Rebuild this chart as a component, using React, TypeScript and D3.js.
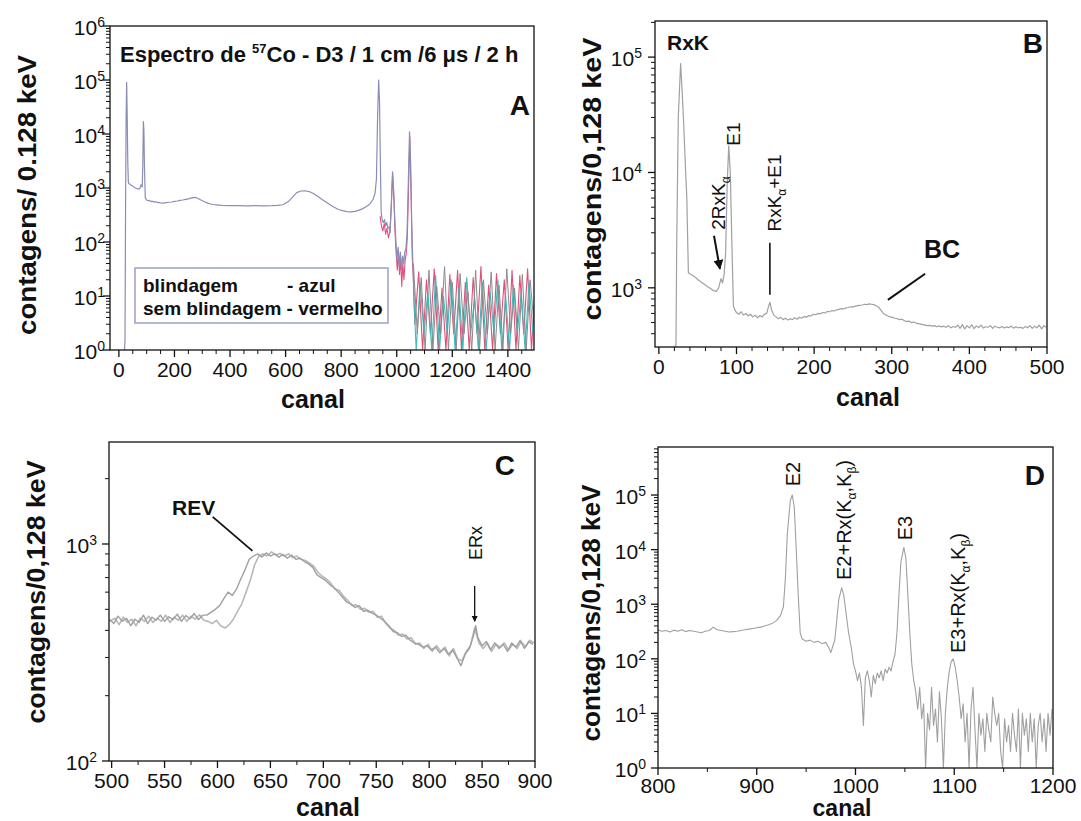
import React from "react";
import * as d3 from "d3";

type Pt = [number, number];
const FONT = "'Liberation Sans', Arial, Helvetica, sans-serif";

// ---------------- Panel A : full spectrum ----------------
const A_xTicks = [0, 200, 400, 600, 800, 1000, 1200, 1400];
const A_yDecades = [0, 1, 2, 3, 4, 5, 6];
const A_blindagem: Pt[] = [
  [20, 1], [22, 1.5], [24, 400], [26, 2e4], [28, 9e4], [30, 2e4], [32, 3000], [34, 1300], [36, 1200], [40, 1180],
  [44, 1120], [48, 1100], [52, 1060], [56, 1020], [60, 1000], [64, 980], [68, 960], [72, 950], [76, 1000], [80, 1150],
  [84, 1050], [86, 2500], [88, 1.7e4], [90, 1.2e4], [92, 2500], [95, 650], [100, 600], [105, 580], [110, 590], [115, 560],
  [120, 570], [125, 550], [130, 560], [140, 540], [150, 530], [160, 525], [170, 535], [180, 545], [190, 550], [200, 565],
  [210, 575], [220, 590], [230, 600], [240, 615], [250, 630], [260, 650], [270, 670], [280, 660], [290, 620], [300, 580],
  [310, 550], [320, 525], [330, 505], [340, 495], [350, 485], [370, 478], [400, 472], [430, 470], [460, 468], [490, 470],
  [520, 468], [550, 470], [570, 475], [590, 490], [610, 560], [625, 680], [640, 820], [655, 880], [670, 890], [685, 860],
  [700, 790], [715, 700], [730, 620], [745, 550], [760, 490], [775, 440], [790, 400], [805, 380], [820, 365], [835, 360],
  [850, 370], [865, 390], [880, 420], [895, 470], [905, 520], [915, 620], [922, 800], [927, 1500], [931, 2e4], [935, 1e5],
  [938, 4e4], [941, 3000], [944, 350], [948, 250], [952, 230], [956, 260], [960, 200], [964, 230], [968, 180], [972, 190],
  [976, 150], [980, 450], [985, 2000], [989, 900], [993, 250], [997, 100], [1001, 50], [1005, 80], [1009, 35], [1013, 65],
  [1017, 30], [1021, 55], [1025, 40], [1029, 65], [1033, 75], [1037, 140], [1041, 900], [1046, 1.1e4], [1050, 3000],
  [1054, 200], [1058, 40], [1062, 10],
];
const A_semBlindagem: Pt[] = [
  [940, 300], [945, 200], [950, 160], [955, 220], [960, 140], [965, 180], [970, 120], [975, 150], [980, 400], [985, 1800],
  [990, 600], [994, 150], [998, 60], [1002, 30], [1006, 70], [1010, 25], [1014, 50], [1018, 15], [1022, 40], [1026, 20],
  [1030, 45], [1034, 60], [1038, 120], [1042, 800], [1047, 9000], [1052, 600], [1056, 50], [1060, 20], [1065, 3],
  [1079, 28], [1093, 1], [1107, 20], [1121, 2], [1135, 32], [1149, 1], [1163, 14], [1177, 1], [1191, 25], [1205, 2],
  [1219, 30], [1233, 1], [1247, 18], [1261, 1], [1275, 22], [1289, 2], [1303, 35], [1317, 1], [1331, 16], [1345, 1],
  [1359, 26], [1373, 2], [1387, 20], [1401, 1], [1415, 30], [1429, 1], [1443, 24], [1457, 2], [1471, 32], [1485, 1],
  [1499, 18],
];
const A_cinzaCauda: Pt[] = [
  [1060, 40], [1074, 2], [1088, 22], [1102, 1], [1116, 30], [1130, 1], [1144, 15], [1158, 2], [1172, 35], [1186, 1],
  [1200, 18], [1214, 1], [1228, 26], [1242, 2], [1256, 12], [1270, 1], [1284, 30], [1298, 1], [1312, 20], [1326, 2],
  [1340, 28], [1354, 1], [1368, 16], [1382, 1], [1396, 32], [1410, 2], [1424, 14], [1438, 1], [1452, 25], [1466, 1],
  [1480, 20], [1494, 3],
];
const A_cianoCauda: Pt[] = [
  [1060, 15], [1070, 1], [1084, 18], [1098, 2], [1112, 12], [1126, 1], [1140, 24], [1154, 1], [1168, 10], [1182, 2],
  [1196, 20], [1210, 1], [1224, 14], [1238, 1], [1252, 22], [1266, 2], [1280, 9], [1294, 1], [1308, 18], [1322, 1],
  [1336, 12], [1350, 2], [1364, 20], [1378, 1], [1392, 10], [1406, 1], [1420, 16], [1434, 2], [1448, 12], [1462, 1],
  [1476, 18], [1490, 2],
];

// ---------------- Panel B : channels 0-500 ----------------
const B_xTicks = [0, 100, 200, 300, 400, 500];
const B_yDecades = [3, 4, 5];
const B_espectro: Pt[] = [
  [20, 300], [22, 320], [23, 2500], [25, 3e4], [28, 8.8e4], [30, 5e4], [32, 2.6e4], [34, 1.2e4], [36, 6000], [38, 1350],
  [42, 1300], [46, 1250], [50, 1180], [54, 1130], [58, 1080], [62, 1030], [66, 990], [70, 950], [74, 930], [77, 1000],
  [80, 1200], [82, 1100], [84, 1300], [86, 2000], [88, 8000], [90, 1.7e4], [92, 1e4], [94, 2500], [96, 700], [98, 640],
  [100, 610], [103, 590], [106, 620], [109, 580], [112, 600], [115, 570], [118, 590], [121, 560], [124, 580], [127, 550],
  [130, 575], [133, 560], [136, 590], [139, 600], [141, 680], [143, 750], [145, 650], [148, 580], [151, 560], [154, 540],
  [157, 555], [160, 530], [163, 545], [166, 525], [169, 540], [172, 530], [175, 550], [178, 535], [181, 555], [184, 545],
  [187, 565], [190, 555], [193, 575], [196, 570], [199, 590], [202, 585], [205, 600], [208, 595], [211, 610], [214, 605],
  [217, 625], [220, 620], [223, 635], [226, 630], [229, 645], [232, 650], [235, 660], [238, 655], [241, 670], [244, 675],
  [247, 685], [250, 680], [253, 695], [256, 700], [259, 705], [262, 710], [265, 720], [268, 715], [271, 725], [274, 720],
  [277, 715], [280, 700], [283, 680], [286, 640], [289, 600], [292, 585], [295, 570], [298, 560], [301, 555], [304, 545],
  [307, 540], [310, 530], [313, 535], [316, 520], [319, 510], [322, 515], [325, 500], [328, 505], [331, 495], [334, 490],
  [337, 485], [340, 480], [343, 475], [346, 470], [349, 472], [352, 465], [355, 470], [358, 460], [361, 468], [364, 458],
  [367, 465], [370, 455], [373, 470], [376, 450], [379, 462], [382, 455], [385, 475], [388, 445], [391, 480], [394, 440],
  [397, 470], [400, 450], [403, 478], [406, 442], [409, 468], [412, 452], [415, 475], [418, 448], [421, 460], [424, 455],
  [427, 470], [430, 445], [433, 465], [436, 455], [439, 450], [442, 462], [445, 448], [448, 458], [451, 452], [454, 465],
  [457, 447], [460, 460], [463, 450], [466, 455], [469, 445], [472, 462], [475, 450], [478, 470], [481, 445], [484, 465],
  [487, 450], [490, 475], [493, 440], [496, 470], [499, 455],
];

// ---------------- Panel C : channels 500-900 ----------------
const C_xTicks = [500, 550, 600, 650, 700, 750, 800, 850, 900];
const C_yDecades = [2, 3];
const C_espectro1: Pt[] = [
  [498, 450], [502, 430], [506, 465], [510, 440], [514, 455], [518, 420], [522, 450], [526, 435], [530, 470], [534, 430],
  [538, 460], [542, 445], [546, 470], [550, 440], [554, 462], [558, 448], [562, 475], [566, 440], [570, 468], [574, 452],
  [578, 478], [582, 448], [586, 470], [590, 470], [594, 485], [598, 500], [602, 520], [606, 560], [610, 600], [614, 580],
  [618, 620], [622, 690], [626, 760], [630, 850], [634, 880], [638, 900], [642, 870], [646, 910], [650, 880], [654, 900],
  [658, 870], [662, 895], [666, 860], [670, 890], [674, 850], [678, 860], [682, 830], [686, 810], [690, 780], [694, 720],
  [698, 700], [702, 680], [706, 650], [710, 630], [714, 600], [718, 570], [722, 540], [726, 530], [730, 510], [734, 520],
  [738, 490], [742, 495], [746, 480], [750, 470], [754, 455], [758, 440], [762, 420], [766, 395], [770, 390], [774, 375],
  [778, 380], [782, 360], [786, 350], [790, 345], [794, 335], [798, 340], [802, 325], [806, 335], [810, 315], [814, 330],
  [818, 310], [822, 325], [826, 300], [830, 275], [834, 310], [838, 330], [842, 380], [844, 420], [846, 370], [850, 340],
  [854, 355], [858, 325], [862, 350], [866, 330], [870, 345], [874, 320], [878, 350], [882, 335], [886, 360], [890, 330],
  [894, 355], [898, 345],
];
const C_espectro2: Pt[] = [
  [498, 440], [503, 455], [507, 425], [511, 460], [515, 435], [519, 450], [523, 420], [527, 455], [531, 440], [535, 465],
  [539, 435], [543, 455], [547, 440], [551, 470], [555, 435], [559, 460], [563, 445], [567, 470], [571, 440], [575, 465],
  [579, 450], [583, 472], [587, 445], [591, 440], [595, 430], [599, 445], [603, 420], [607, 410], [611, 425], [615, 450],
  [619, 490], [623, 530], [627, 600], [631, 680], [635, 800], [639, 880], [643, 900], [647, 880], [651, 920], [655, 890],
  [659, 905], [663, 880], [667, 900], [671, 865], [675, 880], [679, 850], [683, 840], [687, 815], [691, 790], [695, 740],
  [699, 710], [703, 690], [707, 660], [711, 620], [715, 610], [719, 575], [723, 550], [727, 520], [731, 525], [735, 500],
  [739, 505], [743, 485], [747, 490], [751, 460], [755, 465], [759, 430], [763, 410], [767, 400], [771, 380], [775, 385],
  [779, 365], [783, 370], [787, 345], [791, 350], [795, 330], [799, 345], [803, 320], [807, 340], [811, 320], [815, 335],
  [819, 305], [823, 330], [827, 295], [831, 290], [835, 320], [839, 340], [843, 410], [847, 350], [851, 330], [855, 350],
  [859, 320], [863, 345], [867, 335], [871, 350], [875, 325], [879, 345], [883, 330], [887, 355], [891, 335], [895, 360],
  [899, 350],
];

// ---------------- Panel D : channels 800-1200 ----------------
const D_xTicks = [800, 900, 1000, 1100, 1200];
const D_yDecades = [0, 1, 2, 3, 4, 5];
const D_espectro: Pt[] = [
  [800, 340], [804, 320], [808, 330], [812, 310], [816, 335], [820, 320], [824, 340], [828, 315], [832, 330], [836, 320],
  [840, 310], [844, 300], [848, 320], [852, 330], [856, 380], [860, 340], [864, 330], [868, 320], [872, 310], [876, 315],
  [880, 320], [884, 330], [888, 340], [892, 350], [896, 360], [900, 370], [904, 380], [908, 400], [912, 420], [916, 450],
  [920, 500], [924, 620], [927, 900], [929, 3000], [931, 2e4], [934, 8e4], [936, 1e5], [938, 6e4], [940, 1e4], [942, 1500],
  [944, 300], [946, 230], [950, 210], [954, 220], [958, 200], [962, 210], [966, 190], [970, 200], [973, 160], [975, 130],
  [977, 170], [979, 220], [981, 500], [983, 1200], [986, 2000], [988, 1500], [990, 800], [993, 300], [996, 150], [998, 80],
  [1000, 60], [1002, 40], [1004, 55], [1006, 30], [1008, 6], [1010, 45], [1012, 60], [1014, 40], [1016, 20], [1018, 50],
  [1020, 35], [1022, 55], [1024, 45], [1026, 60], [1028, 40], [1030, 65], [1032, 55], [1034, 70], [1036, 60], [1038, 90],
  [1040, 120], [1042, 300], [1044, 1500], [1046, 6000], [1049, 1.1e4], [1051, 7000], [1053, 1500], [1055, 300], [1057, 80],
  [1059, 40], [1061, 25], [1063, 12], [1065, 30], [1067, 8], [1069, 15], [1071, 1], [1073, 10], [1075, 5], [1077, 30],
  [1079, 6], [1081, 12], [1083, 3], [1085, 25], [1087, 8], [1089, 1], [1091, 10], [1093, 30], [1095, 60], [1097, 90],
  [1099, 100], [1101, 70], [1103, 40], [1105, 20], [1107, 8], [1109, 15], [1111, 3], [1113, 10], [1115, 1], [1117, 12],
  [1119, 30], [1121, 5], [1123, 1], [1125, 10], [1127, 4], [1129, 8], [1131, 2], [1133, 10], [1135, 5], [1137, 3],
  [1139, 20], [1141, 10], [1143, 6], [1145, 10], [1147, 2], [1149, 1], [1151, 8], [1153, 3], [1155, 6], [1157, 2],
  [1159, 10], [1161, 4], [1163, 2], [1165, 12], [1167, 1], [1169, 10], [1171, 4], [1173, 8], [1175, 2], [1177, 10],
  [1179, 3], [1181, 8], [1183, 1], [1185, 6], [1187, 10], [1189, 3], [1191, 8], [1193, 2], [1195, 10], [1197, 4],
  [1199, 12],
];

// ---------------- generic panel ----------------
type Scale = (v: number) => number;
interface Series { data: Pt[]; color: string; width: number }
interface PanelProps {
  id: string;
  l: number; r: number; t: number; b: number;
  xDom: [number, number];
  yDom: [number, number];
  xTicks: number[];
  xMinor: number;
  yDecades: number[];
  yGap: number;
  tickLabelOffset?: number;
  series: Series[];
  xLabelX: number; xLabelY: number; xLabelSize?: number;
  yLabel: string; yLabelX: number; yLabelY: number; yLabelLen: number;
  annotate?: (x: Scale, y: Scale) => React.ReactNode;
}

function Panel(p: PanelProps) {
  const x = d3.scaleLinear().domain(p.xDom).range([p.l, p.r]);
  const y = d3.scaleLog().domain(p.yDom).range([p.b, p.t]);
  const line = d3
    .line<Pt>()
    .x((d) => x(d[0]))
    .y((d) => y(Math.max(d[1], p.yDom[0] * 0.3)));
  const xMinor = d3
    .range(Math.ceil(p.xDom[0] / p.xMinor) * p.xMinor, p.xDom[1] + 1e-6, p.xMinor)
    .filter((v) => !p.xTicks.includes(v));
  const yMinor: number[] = [];
  const lo = Math.floor(Math.log10(p.yDom[0]));
  const hi = Math.ceil(Math.log10(p.yDom[1]));
  for (let n = lo; n <= hi; n++)
    for (let k = 2; k <= 9; k++) {
      const v = k * Math.pow(10, n);
      if (v > p.yDom[0] && v < p.yDom[1]) yMinor.push(v);
    }
  const tlo = p.tickLabelOffset ?? 27;
  return (
    <g>
      <defs>
        <clipPath id={`clip-${p.id}`}>
          <rect x={p.l} y={p.t} width={p.r - p.l} height={p.b - p.t} />
        </clipPath>
      </defs>
      <g clipPath={`url(#clip-${p.id})`}>
        {p.series.map((s, i) => (
          <path key={i} d={line(s.data) || ""} fill="none" stroke={s.color} strokeWidth={s.width} strokeLinejoin="round" />
        ))}
      </g>
      <rect x={p.l} y={p.t} width={p.r - p.l} height={p.b - p.t} fill="none" stroke="#111" strokeWidth={1.3} />
      {p.xTicks.map((v) => (
        <g key={"xt" + v}>
          <line x1={x(v)} x2={x(v)} y1={p.b} y2={p.b + 7} stroke="#111" strokeWidth={1.3} />
          <text x={x(v)} y={p.b + tlo} textAnchor="middle" fontSize={21} fill="#111">{v}</text>
        </g>
      ))}
      {xMinor.map((v) => (
        <line key={"xm" + v} x1={x(v)} x2={x(v)} y1={p.b} y2={p.b + 4} stroke="#111" strokeWidth={1} />
      ))}
      {p.yDecades.map((n) => {
        const yy = y(Math.pow(10, n));
        return (
          <g key={"yt" + n}>
            <line x1={p.l - 7} x2={p.l} y1={yy} y2={yy} stroke="#111" strokeWidth={1.3} />
            <text x={p.l - p.yGap} y={yy + 9} textAnchor="end" fontSize={21} fill="#111">
              10<tspan fontSize={14} dy={-8}>{n}</tspan>
            </text>
          </g>
        );
      })}
      {yMinor.map((v) => (
        <line key={"ym" + v} x1={p.l - 4} x2={p.l} y1={y(v)} y2={y(v)} stroke="#111" strokeWidth={1} />
      ))}
      <text x={p.xLabelX} y={p.xLabelY} textAnchor="middle" fontSize={p.xLabelSize ?? 25} fontWeight="bold" fill="#111">canal</text>
      <text
        transform={`translate(${p.yLabelX},${p.yLabelY}) rotate(-90)`}
        textAnchor="middle"
        fontSize={25}
        fontWeight="bold"
        fill="#111"
        textLength={p.yLabelLen}
        lengthAdjust="spacingAndGlyphs"
      >
        {p.yLabel}
      </text>
      {p.annotate ? p.annotate(x, y) : null}
    </g>
  );
}

function Rot(props: { x: number; y: number; anchor?: string; size?: number; weight?: string; children: React.ReactNode }) {
  return (
    <text
      transform={`translate(${props.x},${props.y}) rotate(-90)`}
      textAnchor={props.anchor || "middle"}
      fontSize={props.size || 20}
      fontWeight={props.weight || "normal"}
      fill="#111"
    >
      {props.children}
    </text>
  );
}

export default function App() {
  return (
    <svg
      width={1081}
      height={821}
      viewBox="0 0 1081 821"
      style={{ position: "absolute", left: 0, top: 0, background: "#fff", fontFamily: FONT }}
    >
      <defs>
        <marker id="arrowHead" viewBox="0 0 10 10" refX={9} refY={5} markerWidth={5} markerHeight={5} orient="auto">
          <path d="M0,0 L10,5 L0,10 z" fill="#111" />
        </marker>
      </defs>
      <rect x={0} y={0} width={1081} height={821} fill="#fff" />

      {/* Panel A */}
      <Panel
        id="A"
        l={110} r={534} t={26} b={350}
        xDom={[-32, 1494]}
        yDom={[1, 1e6]}
        xTicks={A_xTicks}
        xMinor={50}
        yDecades={A_yDecades}
        yGap={5}
        series={[
          { data: A_semBlindagem, color: "#e0507a", width: 1.1 },
          { data: A_cianoCauda, color: "#3cbcbc", width: 1.1 },
          { data: A_cinzaCauda, color: "#8a8a8a", width: 1 },
          { data: A_blindagem, color: "#8a8eb6", width: 1.2 },
        ]}
        xLabelX={313} xLabelY={408}
        yLabel="contagens/ 0.128 keV" yLabelX={36} yLabelY={195} yLabelLen={280}
        annotate={() => (
          <g>
            <text x={120} y={62} fontSize={22} fontWeight="bold" fill="#111">
              Espectro de <tspan fontSize={13} dy={-9}>57</tspan>
              <tspan dy={9}>Co - D3 / 1 cm /6 μs / 2 h</tspan>
            </text>
            <text x={530} y={115} textAnchor="end" fontSize={28} fontWeight="bold" fill="#111">A</text>
            <rect x={135} y={268} width={253} height={55} fill="#fff" stroke="#9aa0c8" strokeWidth={1.5} />
            <text x={143} y={292} fontSize={19} fontWeight="bold" fill="#111">blindagem</text>
            <text x={287} y={292} fontSize={19} fontWeight="bold" fill="#111">- azul</text>
            <text x={143} y={315} fontSize={19} fontWeight="bold" fill="#111">sem blindagem - vermelho</text>
          </g>
        )}
      />

      {/* Panel B */}
      <Panel
        id="B"
        l={655} r={1047} t={21} b={347}
        xDom={[-5, 500]}
        yDom={[Math.pow(10, 2.487), Math.pow(10, 5.313)]}
        xTicks={B_xTicks}
        xMinor={20}
        yDecades={B_yDecades}
        yGap={13}
        series={[{ data: B_espectro, color: "#a0a0a0", width: 1.2 }]}
        xLabelX={868} xLabelY={406}
        yLabel="contagens/0,128 keV" yLabelX={601} yLabelY={179} yLabelLen={283}
        annotate={(x, y) => (
          <g>
            <text x={667} y={50} fontSize={21} fontWeight="bold" fill="#111">RxK</text>
            <Rot x={740} y={134} size={19}>E1</Rot>
            <Rot x={725} y={203} size={19}>
              2RxK<tspan fontSize={12} dy={5}>α</tspan>
            </Rot>
            <line x1={x(71)} y1={y(2830)} x2={x(78.6)} y2={y(1460)} stroke="#111" strokeWidth={2} markerEnd="url(#arrowHead)" />
            <Rot x={781} y={193} size={19}>
              RxK<tspan fontSize={12} dy={5}>α</tspan>
              <tspan dy={-5}>+E1</tspan>
            </Rot>
            <line x1={x(143)} y1={y(2460)} x2={x(143)} y2={y(870)} stroke="#111" strokeWidth={1.6} />
            <text x={942} y={258} textAnchor="middle" fontSize={25} fontWeight="bold" fill="#111">BC</text>
            <line x1={x(343)} y1={y(1324)} x2={x(295)} y2={y(787)} stroke="#111" strokeWidth={2} />
            <text x={1043} y={53} textAnchor="end" fontSize={28} fontWeight="bold" fill="#111">B</text>
          </g>
        )}
      />

      {/* Panel C */}
      <Panel
        id="C"
        l={109} r={535} t={442} b={761}
        xDom={[497.5, 900]}
        yDom={[100, Math.pow(10, 3.47)]}
        xTicks={C_xTicks}
        xMinor={25}
        yDecades={C_yDecades}
        yGap={12}
        series={[
          { data: C_espectro2, color: "#b8b8b8", width: 1.6 },
          { data: C_espectro1, color: "#a0a0a0", width: 1.4 },
        ]}
        xLabelX={328} xLabelY={816}
        yLabel="contagens/0,128 keV" yLabelX={45} yLabelY={592} yLabelLen={263}
        annotate={(x, y) => (
          <g>
            <text x={172} y={515} fontSize={21} fontWeight="bold" fill="#111">REV</text>
            <line x1={x(595.5)} y1={y(1334)} x2={x(633)} y2={y(929)} stroke="#111" strokeWidth={1.8} />
            <Rot x={482} y={543} size={18}>ERx</Rot>
            <line x1={x(843)} y1={y(640)} x2={x(843)} y2={y(440)} stroke="#111" strokeWidth={1.3} markerEnd="url(#arrowHead)" />
            <text x={515} y={475} textAnchor="end" fontSize={28} fontWeight="bold" fill="#111">C</text>
          </g>
        )}
      />

      {/* Panel D */}
      <Panel
        id="D"
        l={658} r={1053} t={447} b={768}
        xDom={[800, 1200]}
        yDom={[1, Math.pow(10, 5.88)]}
        xTicks={D_xTicks}
        xMinor={50}
        yDecades={D_yDecades}
        yGap={12}
        tickLabelOffset={25}
        series={[{ data: D_espectro, color: "#a0a0a0", width: 1.1 }]}
        xLabelX={842} xLabelY={816} xLabelSize={23}
        yLabel="contagens/0,128 keV" yLabelX={600} yLabelY={613} yLabelLen={257}
        annotate={() => (
          <g>
            <Rot x={800} y={474} size={20}>E2</Rot>
            <Rot x={851} y={580} size={20} anchor="start">
              E2+Rx(K<tspan fontSize={12} dy={5}>α</tspan>
              <tspan dy={-5}>,K</tspan>
              <tspan fontSize={12} dy={5}>β</tspan>
              <tspan dy={-5}>)</tspan>
            </Rot>
            <Rot x={912} y={528} size={20}>E3</Rot>
            <Rot x={965} y={653} size={20} anchor="start">
              E3+Rx(K<tspan fontSize={12} dy={5}>α</tspan>
              <tspan dy={-5}>,K</tspan>
              <tspan fontSize={12} dy={5}>β</tspan>
              <tspan dy={-5}>)</tspan>
            </Rot>
            <text x={1045} y={485} textAnchor="end" fontSize={28} fontWeight="bold" fill="#111">D</text>
          </g>
        )}
      />
    </svg>
  );
}
